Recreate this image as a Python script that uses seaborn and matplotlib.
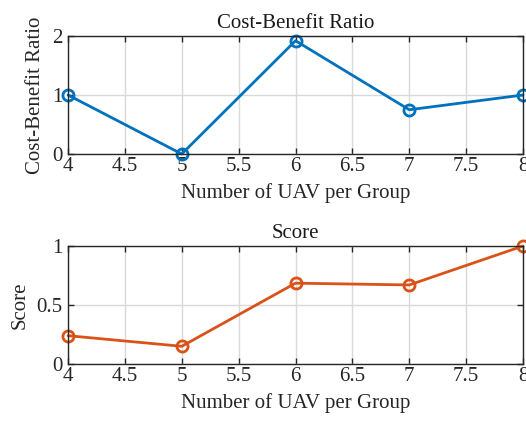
import matplotlib
matplotlib.use("Agg")
import matplotlib.pyplot as plt
import seaborn as sns
import pandas as pd

# Data
uav_per_group = [4, 5, 6, 7, 8]
cost_benefit = [1.0, 0.0, 1.92, 0.75, 1.0]
score = [0.24, 0.15, 0.685, 0.67, 1.0]

x_ticks = [4, 4.5, 5, 5.5, 6, 6.5, 7, 7.5, 8]
x_tick_labels = ["4", "4.5", "5", "5.5", "6", "6.5", "7", "7.5", "8"]
cb_ticks = [0, 1, 2]
score_ticks = [0, 0.5, 1]
score_tick_labels = ["0", "0.5", "1"]

sns.set_theme(style="ticks")
plt.rcParams["font.family"] = ["Liberation Serif", "DejaVu Serif"]

BLUE = "#0072BD"
ORANGE = "#D95319"
FS = 15

fig = plt.figure(figsize=(5.26, 4.23), dpi=100)
ax1 = fig.add_axes([68 / 526, 1 - 154 / 423, 455 / 526, 118 / 423])
ax2 = fig.add_axes([68 / 526, 1 - 364 / 423, 455 / 526, 118 / 423])

df1 = pd.DataFrame({"n": uav_per_group, "v": cost_benefit})
df2 = pd.DataFrame({"n": uav_per_group, "v": score})


def style_axes(ax, title, ylabel, yticks, yticklabels, ylim):
    ax.set_xlim(4, 8)
    ax.set_ylim(*ylim)
    ax.set_xticks(x_ticks)
    ax.set_xticklabels(x_tick_labels)
    ax.set_yticks(yticks)
    ax.set_yticklabels(yticklabels)
    ax.grid(True, color="#d9d9d9", linewidth=1.0)
    ax.set_axisbelow(True)
    for s in ax.spines.values():
        s.set_visible(True)
        s.set_color("#262626")
        s.set_linewidth(1.0)
    ax.tick_params(direction="in", length=4, width=1.0, color="#262626",
                   top=True, right=True, labelsize=FS, labelcolor="#262626",
                   pad=2)
    ax.tick_params(axis="y", pad=4)
    ax.set_title(title, fontsize=FS, color="#1a1a1a", pad=6)
    ax.set_xlabel("Number of UAV per Group", fontsize=FS, color="#262626",
                  labelpad=5)
    ax.set_ylabel(ylabel, fontsize=FS, color="#262626", labelpad=5)


sns.lineplot(data=df1, x="n", y="v", ax=ax1, color=BLUE, linewidth=2.0,
             marker="o", markersize=8, markerfacecolor="none",
             markeredgecolor=BLUE, markeredgewidth=2.0, clip_on=False)
sns.lineplot(data=df2, x="n", y="v", ax=ax2, color=ORANGE, linewidth=2.0,
             marker="o", markersize=8, markerfacecolor="none",
             markeredgecolor=ORANGE, markeredgewidth=2.0, clip_on=False)

style_axes(ax1, "Cost-Benefit Ratio", "Cost-Benefit Ratio", cb_ticks,
           [str(t) for t in cb_ticks], (0, 2))
style_axes(ax2, "Score", "Score", score_ticks, score_tick_labels, (0, 1))

fig.savefig("out.png", dpi=100, facecolor="white")
